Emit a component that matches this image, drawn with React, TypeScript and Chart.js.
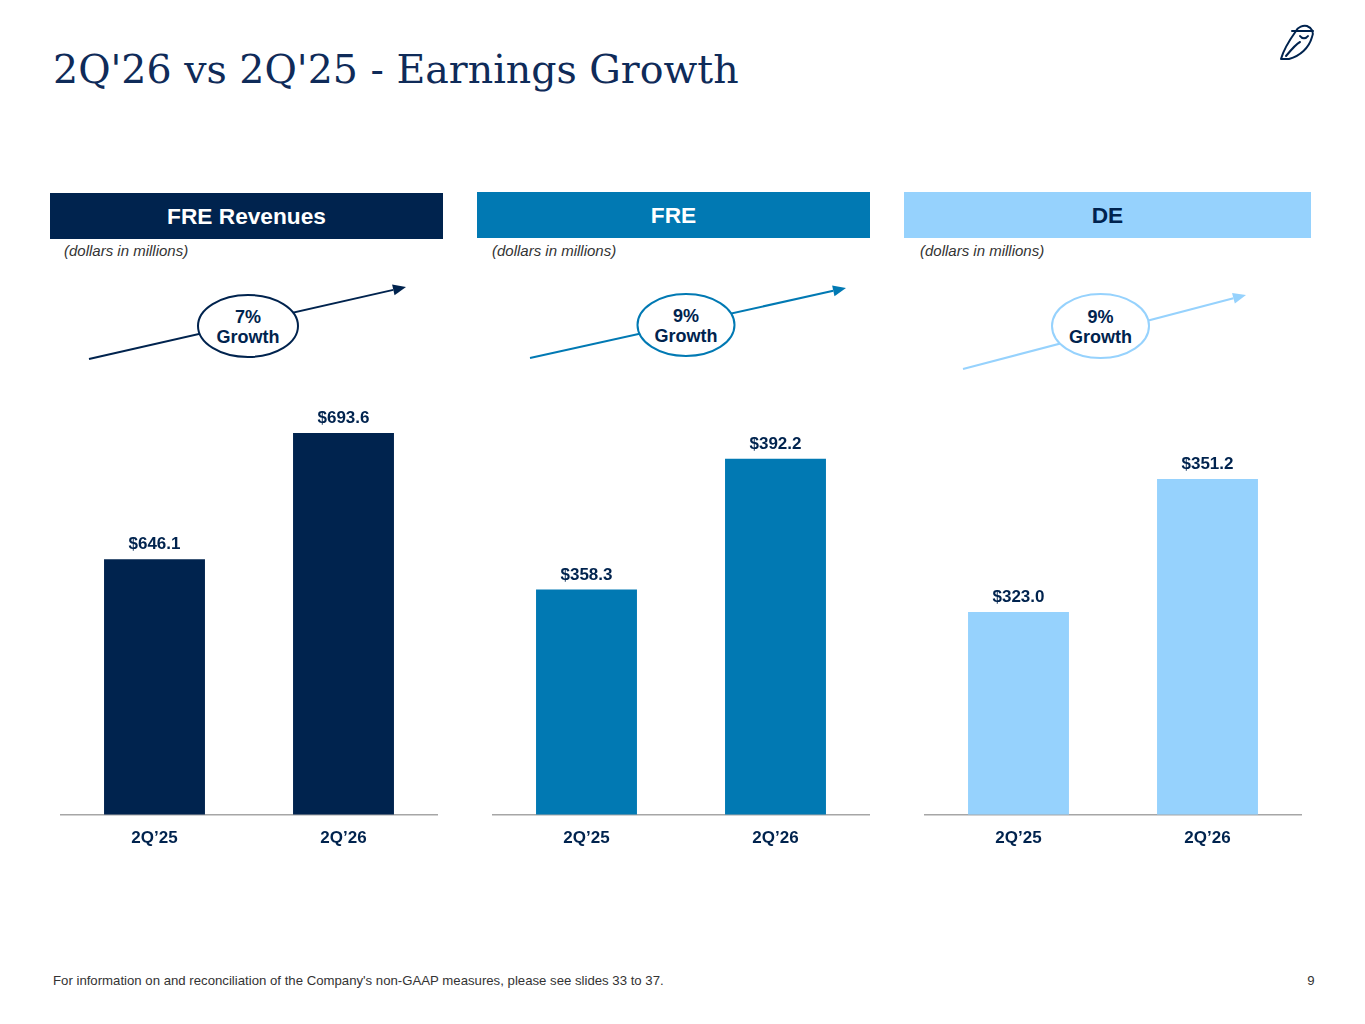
import React, { useEffect, useRef } from "react";
import { Chart, registerables } from "chart.js";

Chart.register(...registerables);

// ---- data ----
const categories = ["2Q\u201925", "2Q\u201926"];
const freRevenues = [646.1, 693.6];
const freValues = [358.3, 392.2];
const deValues = [323.0, 351.2];
const panelTitles = ["FRE Revenues", "FRE", "DE"];
const growthLabels = ["7%", "9%", "9%"];
const unitNote = "(dollars in millions)";
const pageTitle = "2Q'26 vs 2Q'25 - Earnings Growth";
const footnote =
  "For information on and reconciliation of the Company's non-GAAP measures, please see slides 33 to 37.";
const pageNumber = "9";

// ---- styles ----
const NAVY = "#00234E";
const MID = "#0179B3";
const LIGHT = "#96D2FD";
const SANS = "'Liberation Sans', Arial, Helvetica, sans-serif";

const valueLabelPlugin = {
  id: "valueLabels",
  afterDatasetsDraw(chart: any) {
    const ctx = chart.ctx;
    const meta = chart.getDatasetMeta(0);
    const data = chart.data.datasets[0].data as number[];
    ctx.save();
    ctx.font = `bold 17px ${SANS}`;
    ctx.fillStyle = NAVY;
    ctx.textAlign = "center";
    ctx.textBaseline = "alphabetic";
    meta.data.forEach((bar: any, i: number) => {
      ctx.fillText("$" + Number(data[i]).toFixed(1), bar.x, bar.y - 10);
    });
    ctx.restore();
  },
};

function BarPanel(props: { values: number[]; color: string; min: number; max: number; left: number }) {
  const ref = useRef<HTMLCanvasElement>(null);
  useEffect(() => {
    const chart = new Chart(ref.current as HTMLCanvasElement, {
      type: "bar",
      data: {
        labels: categories,
        datasets: [
          {
            data: props.values,
            backgroundColor: props.color,
            barPercentage: 0.534,
            categoryPercentage: 1,
          },
        ],
      },
      options: {
        animation: false,
        responsive: false,
        maintainAspectRatio: false,
        layout: { padding: 0 },
        plugins: { legend: { display: false }, tooltip: { enabled: false } },
        scales: {
          x: {
            grid: { display: false, drawTicks: false },
            border: { display: true, color: "#A6A6A6", width: 1.5 },
            ticks: {
              color: NAVY,
              font: { family: SANS, size: 17, weight: "bold" },
              padding: 14,
            },
          },
          y: { display: false, min: props.min, max: props.max },
        },
      },
      plugins: [valueLabelPlugin],
    } as any);
    return () => chart.destroy();
  }, []);
  return (
    <canvas
      ref={ref}
      width={378}
      height={483}
      style={{ position: "absolute", left: props.left, top: 380, width: 378, height: 483 }}
    />
  );
}

function Header(props: { text: string; left: number; top: number; width: number; bg: string; fg: string }) {
  return (
    <div
      style={{
        position: "absolute",
        left: props.left,
        top: props.top,
        width: props.width,
        height: 46,
        background: props.bg,
        color: props.fg,
        font: `bold 22.7px ${SANS}`,
        lineHeight: "46px",
        textAlign: "center",
      }}
    >
      {props.text}
    </div>
  );
}

function Note(props: { left: number }) {
  return (
    <div
      style={{
        position: "absolute",
        left: props.left,
        top: 242,
        height: 20,
        lineHeight: "20px",
        font: `italic 15px ${SANS}`,
        color: "#333333",
        whiteSpace: "nowrap",
      }}
    >
      {unitNote}
    </div>
  );
}

function Growth(props: {
  x1: number; y1: number; x2: number; y2: number;
  cx: number; cy: number; rx: number; ry: number;
  color: string; label: string;
}) {
  const { x1, y1, x2, y2, cx, cy, rx, ry, color, label } = props;
  const ang = Math.atan2(y2 - y1, x2 - x1);
  const len = 13;
  const half = 5.5;
  const bx = x2 - len * Math.cos(ang);
  const by = y2 - len * Math.sin(ang);
  const px = -Math.sin(ang) * half;
  const py = Math.cos(ang) * half;
  return (
    <g>
      <line x1={x1} y1={y1} x2={bx} y2={by} stroke={color} strokeWidth={2} />
      <polygon points={`${x2},${y2} ${bx + px},${by + py} ${bx - px},${by - py}`} fill={color} />
      <ellipse cx={cx} cy={cy} rx={rx} ry={ry} fill="#FFFFFF" stroke={color} strokeWidth={2} />
      <text x={cx} y={cy - 3} textAnchor="middle" fill={NAVY} style={{ font: `bold 18px ${SANS}` }}>
        {label}
      </text>
      <text x={cx} y={cy + 17} textAnchor="middle" fill={NAVY} style={{ font: `bold 18px ${SANS}` }}>
        Growth
      </text>
    </g>
  );
}

export default function App() {
  return (
    <div
      style={{
        position: "absolute",
        left: 0,
        top: 0,
        width: 1365,
        height: 1024,
        background: "#FFFFFF",
        overflow: "hidden",
      }}
    >
      <div
        style={{
          position: "absolute",
          left: 53,
          top: 46,
          height: 56,
          lineHeight: "56px",
          font: `39.5px 'DejaVu Serif', 'Liberation Serif', Georgia, serif`,
          color: "#0F2B59",
          whiteSpace: "nowrap",
        }}
      >
        {pageTitle}
      </div>

      <svg
        width={1365}
        height={1024}
        style={{ position: "absolute", left: 0, top: 0 }}
      >
        {/* logo */}
        <g fill="none" stroke={NAVY} strokeWidth={2} strokeLinecap="round" strokeLinejoin="round">
          <path d="M1281 59 C1284 48 1291 38 1296 31 C1298 27 1303 25 1307 26 C1312 28 1314 32 1312 37 C1309 48 1300 56 1289 59 Z" />
          <path d="M1292 31 L1313 31" />
          <path d="M1300 36 C1302 39 1306 39 1308 36" />
          <path d="M1286 56 C1291 50 1296 44 1300 42" />
        </g>
        <Growth x1={89} y1={359} x2={406} y2={287} cx={248} cy={326} rx={50} ry={31} color={NAVY} label={growthLabels[0]} />
        <Growth x1={530} y1={358} x2={846} y2={288} cx={686} cy={325} rx={48.5} ry={31} color={MID} label={growthLabels[1]} />
        <Growth x1={963} y1={369} x2={1246} y2={295} cx={1100.5} cy={326} rx={48.5} ry={32} color={LIGHT} label={growthLabels[2]} />
      </svg>

      <Header text={panelTitles[0]} left={50} top={193} width={393} bg={NAVY} fg="#FFFFFF" />
      <Header text={panelTitles[1]} left={477} top={192} width={393} bg={MID} fg="#FFFFFF" />
      <Header text={panelTitles[2]} left={904} top={192} width={407} bg={LIGHT} fg={NAVY} />

      <Note left={64} />
      <Note left={492} />
      <Note left={920} />

      <BarPanel values={freRevenues} color={NAVY} min={550} max={713.5} left={60} />
      <BarPanel values={freValues} color={MID} min={300} max={412.6} left={492} />
      <BarPanel values={deValues} color={LIGHT} min={280} max={372.2} left={924} />

      <div
        style={{
          position: "absolute",
          left: 53,
          top: 973,
          height: 18,
          lineHeight: "18px",
          font: `13.2px ${SANS}`,
          color: "#333333",
          whiteSpace: "nowrap",
        }}
      >
        {footnote}
      </div>
      <div
        style={{
          position: "absolute",
          left: 1300,
          top: 973,
          width: 22,
          height: 18,
          lineHeight: "18px",
          font: `13.2px ${SANS}`,
          color: "#333333",
          textAlign: "center",
        }}
      >
        {pageNumber}
      </div>
    </div>
  );
}
